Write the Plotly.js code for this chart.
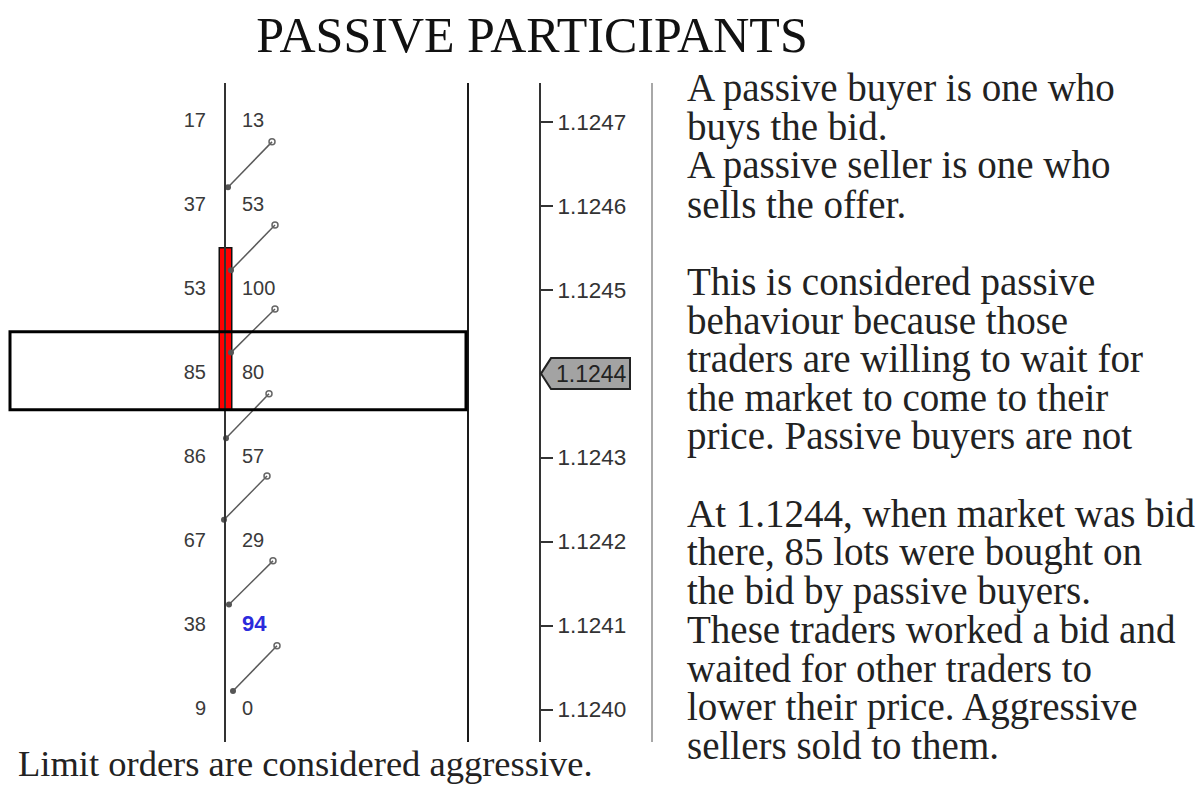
<!DOCTYPE html>
<html>
<head>
<meta charset="utf-8">
<script src="https://cdn.plot.ly/plotly-3.0.1.min.js"></script>
<style>
html,body{margin:0;padding:0;background:#fff;}
#chart{width:1203px;height:787px;}
</style>
</head>
<body>
<div id="chart"></div>
<script>
// ---------- data ----------
const priceLevels = [1.1247, 1.1246, 1.1245, 1.1244, 1.1243, 1.1242, 1.1241, 1.1240];
const bidVolume   = [17, 37, 53, 85, 86, 67, 38, 9];
const askVolume   = [13, 53, 100, 80, 57, 29, 94, 0];
const highlightAskIndex = 6;           // 94 shown in blue
const currentPrice = 1.1244;            // tagged price
const barLow  = [1.124357];             // red volume bar
const barHigh = [1.12455];
const zoneLow  = 1.124357;              // highlighted row
const zoneHigh = 1.12445;
const linkFromPrice = [1.124622, 1.124523, 1.124425, 1.124323, 1.124226, 1.124125, 1.124022];
const linkToPrice   = [1.124676, 1.124577, 1.124477, 1.124376, 1.124278, 1.124177, 1.124076];
const linkFromOffset = [3, 6, 6, 1, -1, 4, 8];
const linkToOffset   = [47, 50, 50, 44, 42, 48, 52];

const titleText = "PASSIVE PARTICIPANTS";
const paragraph1 = ["A passive buyer is one who", "buys the bid.", "A passive seller is one who", "sells the offer."];
const paragraph2 = ["This is considered passive", "behaviour because those", "traders are willing to wait for", "the market to come to their", "price. Passive buyers are not"];
const paragraph3 = ["At 1.1244, when market was bid", "there, 85 lots were bought on", "the bid by passive buyers.", "These traders worked a bid and", "waited for other traders to", "lower their price. Aggressive", "sellers sold to them."];
const footNote = "Limit orders are considered aggressive.";

// ---------- layout constants ----------
const W = 1203, H = 787;
const PLOT_TOP = 83, PLOT_BOTTOM = 742;
const FOOT_X = 225;      // footprint centre line
const RIGHT_X = 468;     // right border of footprint column
const AXIS_X = 540;      // price axis
const SEP_X = 652;       // separator
const yRange = [1.1239613, 1.12474609];
const pxPerPrice = (PLOT_BOTTOM - PLOT_TOP) / (yRange[1] - yRange[0]);

const serif = "Liberation Serif, Times New Roman, serif";
const sans = "Liberation Sans, Arial, sans-serif";

// ---------- traces ----------
const traces = [];

traces.push({
  type: 'bar', x: [FOOT_X + 0.5], y: barHigh.map((h, i) => h - barLow[i]), base: barLow,
  width: 12.5, marker: {color: '#ff0000', line: {color: '#111', width: 1.5}},
  hoverinfo: 'skip'
});

const lx = [], ly = [];
linkFromPrice.forEach((p, i) => {
  lx.push(FOOT_X + linkFromOffset[i], FOOT_X + linkToOffset[i], null);
  ly.push(p, linkToPrice[i], null);
});
traces.push({type: 'scatter', mode: 'lines', x: lx, y: ly,
  line: {color: '#5a5a5a', width: 1.5}, hoverinfo: 'skip'});
traces.push({type: 'scatter', mode: 'markers',
  x: linkFromOffset.map(o => FOOT_X + o), y: linkFromPrice,
  marker: {symbol: 'circle', size: 6, color: '#555'}, hoverinfo: 'skip'});
traces.push({type: 'scatter', mode: 'markers',
  x: linkToOffset.map(o => FOOT_X + o), y: linkToPrice,
  marker: {symbol: 'circle-open', size: 6, color: '#666', line: {width: 1.5}}, hoverinfo: 'skip'});

traces.push({type: 'scatter', mode: 'text',
  x: bidVolume.map(() => FOOT_X - 19), y: priceLevels,
  text: bidVolume.map(String), textposition: 'middle left',
  textfont: {family: sans, size: 20, color: '#3a3a3a'}, hoverinfo: 'skip'});
traces.push({type: 'scatter', mode: 'text',
  x: askVolume.map(() => FOOT_X + 17), y: priceLevels,
  text: askVolume.map((v, i) => i === highlightAskIndex ? '<b>' + v + '</b>' : String(v)),
  textposition: 'middle right',
  textfont: {family: sans,
    size: askVolume.map((v, i) => i === highlightAskIndex ? 22 : 20),
    color: askVolume.map((v, i) => i === highlightAskIndex ? '#2b2bdc' : '#3a3a3a')},
  hoverinfo: 'skip'});

// ---------- shapes ----------
const vline = (x, color, width) => ({type: 'line', xref: 'x', yref: 'paper', x0: x, x1: x, y0: 0, y1: 1,
  line: {color: color, width: width}});
const tagHalf = 15.5 / pxPerPrice;
const tagPath = 'M ' + (AXIS_X + 1) + ',' + currentPrice +
  ' L ' + (AXIS_X + 11) + ',' + (currentPrice + tagHalf) +
  ' L 630,' + (currentPrice + tagHalf) +
  ' L 630,' + (currentPrice - tagHalf) +
  ' L ' + (AXIS_X + 11) + ',' + (currentPrice - tagHalf) + ' Z';

const shapes = [
  vline(FOOT_X, '#333', 2),
  vline(RIGHT_X, '#1a1a1a', 2),
  vline(SEP_X, '#a8a8a8', 2),
  {type: 'rect', xref: 'x', yref: 'y', x0: 10, x1: 466, y0: zoneLow, y1: zoneHigh,
    line: {color: '#000', width: 3}, layer: 'above'},
  {type: 'path', xref: 'x', yref: 'y', path: tagPath, fillcolor: '#a3a3a3',
    line: {color: '#222', width: 2}, layer: 'above'}
];

// ---------- annotations ----------
const annotations = [];
annotations.push({xref: 'x', yref: 'y', x: AXIS_X + 14, y: currentPrice, xanchor: 'left', yanchor: 'middle',
  text: currentPrice.toFixed(4), showarrow: false, font: {family: sans, size: 23, color: '#222'}});

const lines = [].concat(paragraph1, [''], paragraph2, [''], paragraph3);
const LINE0 = 88, LINE_STEP = 38.7;
lines.forEach((t, i) => {
  if (!t) return;
  const yc = LINE0 + i * LINE_STEP;
  annotations.push({xref: 'paper', yref: 'paper', x: 686 / W, y: (PLOT_BOTTOM - yc) / (PLOT_BOTTOM - PLOT_TOP),
    xanchor: 'left', yanchor: 'middle', text: t, showarrow: false, borderpad: 0,
    font: {family: serif, size: 39, color: '#222'}});
});
annotations.push({xref: 'paper', yref: 'paper', x: 17 / W, y: (PLOT_BOTTOM - 763) / (PLOT_BOTTOM - PLOT_TOP),
  xanchor: 'left', yanchor: 'middle', text: footNote, showarrow: false, borderpad: 0,
  font: {family: serif, size: 36.5, color: '#222'}});

const tickVals = priceLevels.filter(p => p !== currentPrice);

const layout = {
  width: W, height: H,
  margin: {l: 0, r: 0, t: PLOT_TOP, b: H - PLOT_BOTTOM, pad: 0},
  paper_bgcolor: '#fff', plot_bgcolor: '#fff',
  showlegend: false, hovermode: false,
  title: {text: titleText, font: {family: serif, size: 50, color: '#111'},
    x: 532 / W, xanchor: 'center', xref: 'container', y: 1 - 34 / H, yanchor: 'middle', yref: 'container'},
  xaxis: {range: [0, W], visible: false, fixedrange: true},
  yaxis: {range: yRange, anchor: 'free', position: AXIS_X / W, side: 'right',
    showline: true, linecolor: '#333', linewidth: 2,
    ticks: 'outside', ticklen: 12, tickwidth: 2, tickcolor: '#333',
    tickvals: tickVals, ticktext: tickVals.map(v => v.toFixed(4)),
    tickfont: {family: sans, size: 22.5, color: '#333'},
    showgrid: false, zeroline: false, fixedrange: true},
  shapes: shapes,
  annotations: annotations,
  bargap: 0
};

Plotly.newPlot('chart', traces, layout, {staticPlot: true, displayModeBar: false});
</script>
</body>
</html>
